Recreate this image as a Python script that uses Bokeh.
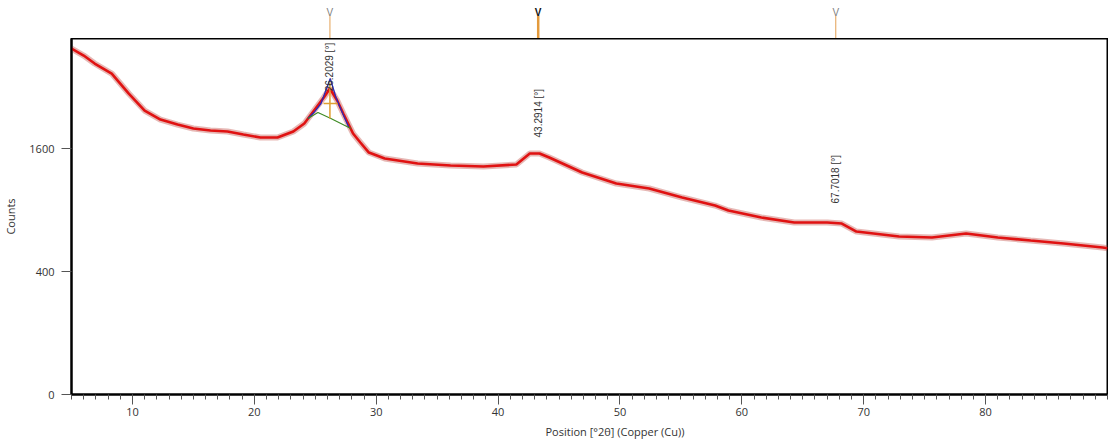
import numpy as np
from bokeh.plotting import figure
from bokeh.layouts import column
from bokeh.models import Range1d, FixedTicker, Title
from bokeh.core.properties import value
from bokeh.embed import file_html
from bokeh.resources import INLINE

# ---- data (2theta in degrees, intensity in counts) ----
two_theta = [5.0, 6.0, 6.9, 8.3, 9.0, 9.7, 11.0, 12.3, 13.7, 15.0, 16.4, 17.8, 19.1,
             20.5, 21.9, 23.2, 24.1, 24.9, 25.7, 26.2, 26.8, 27.3, 28.1, 28.7, 29.4,
             30.7, 33.4, 36.1, 38.8, 41.5, 42.6, 43.4, 44.2, 46.9, 49.7, 52.4, 55.1,
             57.8, 58.9, 61.6, 64.3, 67.0, 68.2, 69.4, 72.9, 75.6, 78.4, 81.0, 83.7,
             86.4, 89.6, 90.0]
counts = [3165, 3038, 2897, 2724, 2557, 2395, 2132, 1999, 1927, 1871, 1843, 1829, 1787,
          1746, 1746, 1829, 1942, 2132, 2332, 2476, 2285, 2088, 1801, 1679, 1548,
          1473, 1411, 1386, 1374, 1399, 1536, 1536, 1485, 1303, 1177, 1122, 1026,
          944, 895, 828, 782, 782, 773, 702, 660, 652, 685, 652, 627,
          603, 571, 565]

# fitted profile and background at the first peak
fit_theta = [24.40, 24.89, 25.47, 26.23, 26.70, 27.25, 27.76]
fit_counts = [2014, 2102, 2239, 2640, 2332, 2088, 1885]
bg_theta = [24.40, 25.22, 26.28, 27.92]
bg_counts = [2014, 2102, 2014, 1871]

# peak list
peak_pos = [26.2029, 43.2914, 67.7018]
peak_labels = ["26.2029 [°]", "43.2914 [°]", "67.7018 [°]"]

y_ticks_counts = [0, 400, 1600]
x_ticks = [10, 20, 30, 40, 50, 60, 70, 80]

FONT = "Open Sans"
sq = lambda a: np.sqrt(np.asarray(a, dtype=float))

xr = Range1d(5, 90)
W = 1108
BL, BR = 70, 1
TOP_H = 38

# ---- top strip with peak markers ----
top = figure(width=W, height=TOP_H, x_range=xr, y_range=Range1d(0, TOP_H),
             output_backend="svg", toolbar_location=None,
             min_border_left=BL, min_border_right=BR, min_border_top=0, min_border_bottom=0)
top.axis.visible = False
top.grid.visible = False
top.outline_line_color = None
top.background_fill_color = None
top.border_fill_color = None
for i, xp in enumerate(peak_pos):
    sel = (i == 1)
    top.segment(x0=[xp], y0=[0], x1=[xp], y1=[TOP_H - 15],
                line_color="#e39a3c" if sel else "#e8b070",
                line_width=2.5 if sel else 1.2)
    top.text(x=[xp], y=[TOP_H - 6], text=["V"], text_align="center", text_baseline="top",
             text_font=value("Liberation Sans"), text_font_size="10px",
             text_font_style="bold" if sel else "normal",
             text_color="#111111" if sel else "#808080")

# ---- main plot ----
s_top = 57.89
p = figure(width=W, height=404, x_range=xr, y_range=Range1d(0, s_top),
           output_backend="svg", toolbar_location=None,
           min_border_left=BL, min_border_right=BR, min_border_top=0, min_border_bottom=48)
p.grid.visible = False
p.outline_line_color = "#000000"
p.outline_line_width = 2
p.background_fill_color = "white"

p.line(two_theta, sq(counts), line_color="#b8352c", line_width=6, line_alpha=0.35)
p.line(two_theta, sq(counts), line_color="#e01212", line_width=2.6)
p.line(fit_theta, sq(fit_counts), line_color="#2a2ab8", line_width=1.3)
p.line(bg_theta, sq(bg_counts), line_color="#3d8a22", line_width=1.1)

# peak marker cross at first peak
xp0 = peak_pos[0]
p.segment(x0=[xp0], y0=[sq([2014])[0]], x1=[xp0], y1=[sq([2574])[0]],
          line_color="#e0a030", line_width=1.5)
p.segment(x0=[xp0 - 0.52], y0=[sq([2239])[0]], x1=[xp0 + 0.63], y1=[sq([2239])[0]],
          line_color="#e0a030", line_width=1.5)

# peak labels (vertical)
label_base = [49.3, 41.8, 31.06]
for xp, txt, yb in zip(peak_pos, peak_labels, label_base):
    p.text(x=[xp], y=[yb], text=[txt], angle=np.pi / 2, text_align="left",
           text_baseline="middle", text_font=value("Liberation Sans"),
           text_font_size="10px", text_color="#333333")

# axes
xa = p.xaxis[0]
xa.ticker = FixedTicker(ticks=x_ticks, minor_ticks=list(range(5, 91)))
xa.axis_line_color = "#000000"
xa.axis_line_width = 2
xa.major_tick_out = 10
xa.major_tick_in = 0
xa.minor_tick_out = 5
xa.minor_tick_in = 0
xa.major_tick_line_color = "#555555"
xa.minor_tick_line_color = "#555555"
xa.major_label_standoff = 3
xa.major_label_text_font = FONT
xa.major_label_text_font_size = "11px"
xa.major_label_text_color = "#333333"

ya = p.yaxis[0]
ya.ticker = FixedTicker(ticks=[float(v) for v in sq(y_ticks_counts)], minor_ticks=[])
ya.major_label_overrides = {float(s): str(c) for s, c in zip(sq(y_ticks_counts), y_ticks_counts)}
ya.axis_line_color = "#000000"
ya.axis_line_width = 2
ya.major_tick_out = 10
ya.major_tick_in = 0
ya.major_tick_line_color = "#555555"
ya.major_label_standoff = 7
ya.major_label_text_font = FONT
ya.major_label_text_font_size = "11px"
ya.major_label_text_color = "#333333"
ya.axis_label = "Counts"
ya.axis_label_standoff = 8
ya.axis_label_text_font = FONT
ya.axis_label_text_font_size = "11px"
ya.axis_label_text_font_style = "normal"
ya.axis_label_text_color = "#333333"

xlab = Title(text="Position [°2θ] (Copper (Cu))", align="left", offset=474,
             text_font=FONT, text_font_size="11px", text_font_style="normal",
             text_color="#333333", standoff=7)
p.add_layout(xlab, "below")

layout = column(top, p, spacing=0)
open("out.html", "w").write(file_html(layout, INLINE))
